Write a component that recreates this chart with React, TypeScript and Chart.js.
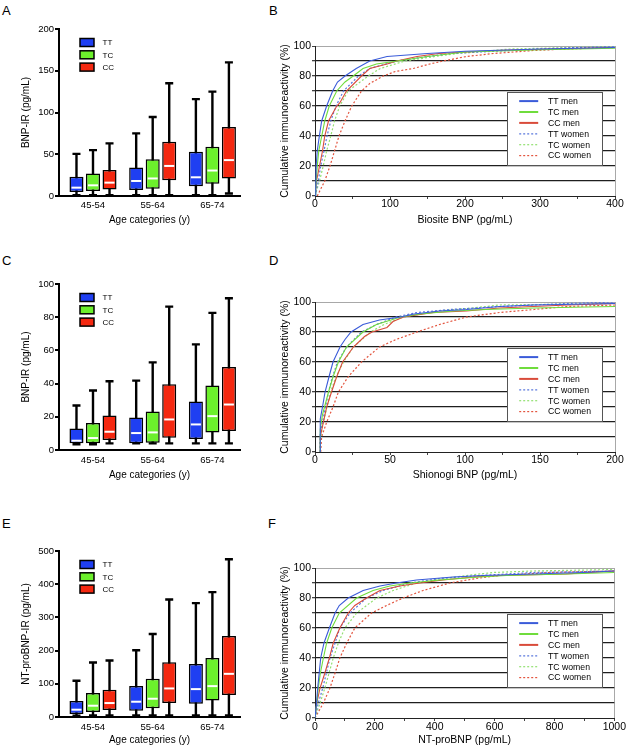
import React, { useEffect, useRef } from 'react';
import { Chart, registerables } from 'chart.js';

Chart.register(...registerables);

const W = 627;
const H = 748;
const FONT = "'Liberation Sans', Arial, Helvetica, sans-serif";
Chart.defaults.font.family = FONT;
Chart.defaults.color = '#000';

// ---------- Box plot data: [min, q1, median, q3, max] per age category ----------
const ageCategories = ['45-54', '55-64', '65-74'];
const genotypes = ['TT', 'TC', 'CC'];
const genotypeColors = ['#1f3ff2', '#6cf02c', '#f42810'];

const biositeTT = [[1, 4.8, 10, 23, 50.5], [1, 7.2, 18, 34, 75], [1, 11.6, 22.4, 53, 116]];
const biositeTC = [[1, 6, 12.8, 27, 55], [1, 8.8, 21, 44, 94.6], [1, 14.8, 30.5, 59, 125]];
const biositeCC = [[1, 7.8, 16, 31, 63], [1, 19, 36, 65, 135], [3, 21, 43, 82.6, 160]];

const shionogiTT = [[3.5, 4, 5.6, 13, 26.8], [4, 4, 10.2, 19.6, 41.8], [4, 6.6, 15.4, 29.2, 63.6]];
const shionogiTC = [[3.5, 4, 7.2, 16.2, 35.8], [4, 4.4, 10.6, 23.2, 52.8], [4, 10.6, 20.4, 38.8, 82.6]];
const shionogiCC = [[4, 6, 11, 20.8, 41.4], [4, 7.4, 18.4, 39.6, 86.4], [4, 11.4, 27.4, 50, 91.4]];

const ntproTT = [[4, 9, 22, 48, 109], [5, 19, 46, 93, 201], [5, 40, 84, 160, 343]];
const ntproTC = [[5, 15, 34, 72, 164], [5, 26, 55, 115, 250], [5, 50, 93, 178, 376]];
const ntproCC = [[5, 21, 42, 82, 170], [5, 42, 86, 165, 354], [5, 66, 130, 244, 475]];

// ---------- Cumulative distribution data: [concentration, cumulative %] ----------
const cdfLabels = ['TT men', 'TC men', 'CC men', 'TT women', 'TC women', 'CC women'];
const cdfColors = ['#3a5bd9', '#6fdc3c', '#d94b3a', '#5a78dd', '#92e070', '#e3553f'];
const cdfDotted = [false, false, false, true, true, true];

const biositeTTmen = [[0, 0], [1, 5], [1.5, 20], [3, 30], [5.8, 40], [8.9, 50], [15.5, 60], [23.5, 70], [30, 76], [40, 80], [55, 85], [73, 90], [96, 93], [150, 95], [200, 96.5], [300, 98], [400, 99]];
const biositeTCmen = [[0, 0], [1, 5], [3, 20], [5, 30], [9, 40], [13, 50], [19, 60], [29, 70], [40, 76], [51, 80], [64, 85], [82, 88], [110, 90], [150, 93], [200, 96], [300, 97.5], [400, 98.5]];
const biositeCCmen = [[0, 0], [2, 10], [6, 20], [10, 30], [13, 40], [18, 50], [29, 60], [33, 62], [42, 70], [62, 80], [73, 85], [96, 88], [109, 90], [136, 93], [165, 95], [240, 97], [320, 98], [400, 99]];
const biositeTTwomen = [[0, 0], [4.4, 10], [7.6, 20], [12, 30], [16, 40], [21, 50], [28, 60], [38, 70], [58, 80], [73, 85], [109, 90], [150, 93], [180, 95], [300, 98], [350, 99], [400, 99.5]];
const biositeTCwomen = [[0, 0], [6, 10], [11, 20], [15.5, 30], [21, 40], [26, 50], [33, 60], [44, 70], [71, 80], [87, 85], [120, 90], [160, 93], [190, 95], [260, 98], [380, 99.5], [400, 100]];
const biositeCCwomen = [[3, 0], [13, 10], [20, 20], [26, 30], [32, 40], [40, 50], [49, 60], [62, 70], [73, 75], [91, 80], [107, 83], [131, 85], [153, 88], [171, 90], [202, 93], [238, 95], [291, 97], [336, 98], [400, 99]];

const shionogiTTmen = [[3.5, 0], [3.5, 22], [5, 30], [6.7, 40], [9.3, 50], [12, 60], [16.7, 70], [20, 75], [24, 80], [32, 85], [43, 88], [57, 90], [66, 92], [83, 94], [101, 95], [123, 97], [146, 98], [200, 99]];
const shionogiTCmen = [[3.5, 0], [3.5, 15], [5, 25], [9, 40], [12, 50], [15.6, 60], [21, 70], [32, 80], [41, 85], [57, 90], [70, 92], [92, 94], [114, 95], [146, 96], [200, 97]];
const shionogiCCmen = [[3.5, 0], [3.5, 10], [5.6, 20], [7.8, 30], [11, 40], [14.4, 50], [18.4, 60], [25.6, 70], [33, 77], [38, 80], [48, 83], [52, 87], [59, 90], [79, 93], [101, 94], [123, 96], [168, 98], [200, 99]];
const shionogiTTwomen = [[3.5, 0], [3.5, 12], [5, 20], [9, 40], [11.6, 50], [15, 60], [21, 70], [31, 80], [41, 85], [54, 90], [68, 93], [90, 95], [123, 97], [168, 99], [200, 100]];
const shionogiTCwomen = [[3.5, 0], [3.5, 8], [5.6, 20], [10.4, 40], [14, 50], [19, 60], [25.6, 70], [37, 80], [46, 85], [59, 90], [83, 94], [105, 96], [123, 98], [200, 99]];
const shionogiCCwomen = [[3.8, 0], [4.4, 10], [7.8, 20], [12, 30], [15.6, 40], [22, 50], [31, 60], [43, 70], [54, 75], [68, 80], [83, 85], [101, 90], [123, 93], [146, 95], [168, 97], [200, 98]];

const ntproTTmen = [[0, 0], [5, 10], [9, 20], [14, 30], [19, 40], [30, 50], [48, 60], [67, 70], [81, 75], [111, 80], [161, 85], [217, 88], [272, 90], [339, 92], [461, 94], [561, 95], [728, 96], [894, 97], [1000, 98]];
const ntproTCmen = [[0, 0], [6, 10], [11, 20], [18, 30], [28, 40], [39, 50], [56, 60], [81, 70], [139, 80], [194, 85], [250, 88], [317, 90], [417, 92], [550, 94], [639, 95], [839, 96], [1000, 97]];
const ntproCCmen = [[0, 0], [6, 10], [17, 20], [33, 30], [48, 40], [61, 50], [72, 55], [83, 60], [111, 70], [133, 75], [172, 80], [217, 85], [283, 88], [350, 90], [428, 92], [528, 94], [617, 95], [839, 96], [1000, 98]];
const ntproTTwomen = [[0, 0], [11, 10], [26, 20], [38, 30], [50, 40], [67, 50], [83, 60], [117, 70], [172, 80], [228, 85], [317, 90], [417, 93], [550, 95], [728, 97], [1000, 98]];
const ntproTCwomen = [[0, 0], [17, 10], [33, 20], [47, 30], [61, 40], [78, 50], [100, 60], [139, 70], [206, 80], [261, 85], [339, 90], [428, 93], [506, 95], [594, 97], [728, 98], [1000, 99]];
const ntproCCwomen = [[0, 0], [28, 10], [50, 20], [67, 30], [83, 40], [106, 50], [133, 60], [189, 70], [239, 75], [294, 80], [361, 85], [450, 90], [539, 93], [617, 95], [783, 97], [1000, 98]];

// ---------- plugins ----------
const boxWhiskerPlugin = {
  id: 'boxWhisker',
  beforeDatasetsDraw(chart: any) {
    const ctx = chart.ctx;
    const y = chart.scales.y;
    chart.data.datasets.forEach((ds: any, i: number) => {
      const meta = chart.getDatasetMeta(i);
      meta.data.forEach((el: any, j: number) => {
        const s = ds.stats[j];
        const x = el.x;
        const cw = 4;
        const yMin = y.getPixelForValue(s[0]);
        const yMax = y.getPixelForValue(s[4]);
        ctx.save();
        ctx.strokeStyle = '#000';
        ctx.lineWidth = 2.4;
        ctx.beginPath();
        ctx.moveTo(x, yMax);
        ctx.lineTo(x, yMin);
        ctx.moveTo(x - cw, yMax);
        ctx.lineTo(x + cw, yMax);
        ctx.moveTo(x - cw, yMin);
        ctx.lineTo(x + cw, yMin);
        ctx.stroke();
        ctx.restore();
      });
    });
  },
  afterDatasetsDraw(chart: any) {
    const ctx = chart.ctx;
    const y = chart.scales.y;
    chart.data.datasets.forEach((ds: any, i: number) => {
      const meta = chart.getDatasetMeta(i);
      meta.data.forEach((el: any, j: number) => {
        const s = ds.stats[j];
        const ym = y.getPixelForValue(s[2]);
        const half = el.width / 2 - 2;
        ctx.save();
        ctx.strokeStyle = '#fff';
        ctx.lineWidth = 2;
        ctx.beginPath();
        ctx.moveTo(el.x - half, ym);
        ctx.lineTo(el.x + half, ym);
        ctx.stroke();
        ctx.restore();
      });
    });
  },
};

const boxLegendPlugin = {
  id: 'boxLegend',
  afterDraw(chart: any) {
    const ctx = chart.ctx;
    const ca = chart.chartArea;
    chart.data.datasets.forEach((ds: any, i: number) => {
      const cy = ca.top + 13.5 + i * 12.3;
      ctx.save();
      ctx.fillStyle = ds.backgroundColor;
      ctx.fillRect(ca.left + 21, cy - 4, 14, 8);
      ctx.strokeStyle = '#000';
      ctx.lineWidth = 1.5;
      ctx.strokeRect(ca.left + 21, cy - 4, 14, 8);
      ctx.fillStyle = '#000';
      ctx.font = `8px ${FONT}`;
      ctx.textBaseline = 'middle';
      ctx.textAlign = 'left';
      ctx.fillText(ds.label, ca.left + 43.5, cy + 0.5);
      ctx.restore();
    });
  },
};

const cdfLegendPlugin = {
  id: 'cdfLegend',
  afterDraw(chart: any) {
    const ctx = chart.ctx;
    const ca = chart.chartArea;
    const bw = 95;
    const bh = 73;
    const bx = Math.round(ca.right - 12.7 - bw) + 0.5;
    const by = Math.round(ca.top + 46.3) + 0.5;
    ctx.save();
    ctx.fillStyle = '#fff';
    ctx.fillRect(bx, by, bw, bh);
    ctx.strokeStyle = '#555';
    ctx.lineWidth = 1;
    ctx.strokeRect(bx, by, bw, bh);
    chart.data.datasets.forEach((ds: any, i: number) => {
      const cy = by + 8.6 + i * 10.9;
      ctx.strokeStyle = ds.borderColor;
      ctx.lineWidth = ds.borderDash && ds.borderDash.length ? 1.2 : 2;
      ctx.setLineDash(ds.borderDash || []);
      ctx.beginPath();
      ctx.moveTo(bx + 11.7, cy);
      ctx.lineTo(bx + 30.7, cy);
      ctx.stroke();
      ctx.setLineDash([]);
      ctx.fillStyle = '#000';
      ctx.font = `8.7px ${FONT}`;
      ctx.textBaseline = 'middle';
      ctx.textAlign = 'left';
      ctx.fillText(ds.label, bx + 40.5, cy + 0.5);
    });
    ctx.restore();
  },
};

// ---------- config builders ----------
type Rect = { l: number; t: number; r: number; b: number };

function boxConfig(series: number[][][], yMax: number, yStep: number, yTitle: string, rect: Rect, yTitleX: number, xTitleY: number, xTickPad: number) {
  const padLeft = yTitleX - 6;
  const yW = rect.l - padLeft;
  const scaleBottom = xTitleY + 6;
  const xH = scaleBottom - rect.b;
  const firstCenter = 93;
  const spacing = 59.7;
  return {
    type: 'bar',
    data: {
      datasets: genotypes.map((g, i) => ({
        label: g,
        data: series[i].map((s, j) => ({ x: j, y: [s[1], s[3]] })),
        stats: series[i],
        backgroundColor: genotypeColors[i],
        borderColor: '#000',
        borderWidth: 1.5,
        borderSkipped: false,
        barPercentage: 0.85,
        categoryPercentage: 0.83,
      })),
    },
    options: {
      animation: false,
      responsive: false,
      devicePixelRatio: 1,
      layout: { padding: { left: padLeft, top: rect.t, right: W - rect.r, bottom: H - scaleBottom } },
      plugins: { legend: { display: false }, tooltip: { enabled: false } },
      scales: {
        x: {
          type: 'linear',
          bounds: 'data',
          offset: false,
          min: (rect.l - firstCenter) / spacing,
          max: (rect.r - firstCenter) / spacing,
          grid: { display: false, drawTicks: false, offset: false },
          border: { display: true, color: '#000', width: 2 },
          ticks: {
            padding: xTickPad,
            font: { size: 9.5 },
            color: '#000',
            autoSkip: false,
            maxRotation: 0,
            callback: (v: number) => ageCategories[v] ?? '',
          },
          afterBuildTicks: (s: any) => {
            s.ticks = ageCategories.map((_, i) => ({ value: i }));
          },
          afterFit: (s: any) => {
            s.height = xH;
          },
          title: { display: true, text: 'Age categories (y)', font: { size: 10 }, color: '#000', padding: 0 },
        },
        y: {
          min: 0,
          max: yMax,
          ticks: { stepSize: yStep, font: { size: 9.5 }, color: '#000', padding: 1 },
          grid: { display: true, drawOnChartArea: false, drawTicks: true, tickLength: 4, tickWidth: 2, tickColor: '#000', lineWidth: 2, color: '#000' },
          border: { display: true, color: '#000', width: 2 },
          afterFit: (s: any) => {
            s.width = yW;
          },
          title: { display: true, text: yTitle, font: { size: 10 }, color: '#000', padding: 0 },
        },
      },
    },
    plugins: [boxWhiskerPlugin, boxLegendPlugin],
  };
}

function cdfConfig(series: number[][][], xMax: number, xStep: number, xTitle: string, rect: Rect, yTitleX: number, xTitleY: number, xTickPad: number) {
  const padLeft = yTitleX - 6.3;
  const yW = rect.l - padLeft;
  const scaleBottom = xTitleY + 6.3;
  const xH = scaleBottom - rect.b;
  return {
    type: 'line',
    data: {
      datasets: series.map((pts, i) => ({
        label: cdfLabels[i],
        data: pts.map(([x, y]) => ({ x, y })),
        borderColor: cdfColors[i],
        borderWidth: cdfDotted[i] ? 1.2 : 1.1,
        borderDash: cdfDotted[i] ? [2, 2] : [],
        pointRadius: 0,
        fill: false,
        tension: 0,
      })),
    },
    options: {
      animation: false,
      responsive: false,
      devicePixelRatio: 1,
      layout: { padding: { left: padLeft, top: rect.t, right: W - rect.r, bottom: H - scaleBottom } },
      plugins: { legend: { display: false }, tooltip: { enabled: false } },
      scales: {
        x: {
          type: 'linear',
          min: 0,
          max: xMax,
          ticks: {
            stepSize: xStep / 2,
            autoSkip: false,
            maxRotation: 0,
            padding: xTickPad,
            font: { size: 10.5, lineHeight: 1 },
            color: '#000',
            callback: (v: number) => (v % xStep === 0 ? String(v) : ''),
          },
          grid: {
            color: (c: any) => (c.tick && c.tick.value === xMax ? '#a8a8a8' : 'rgba(0,0,0,0)'),
            tickColor: '#444',
            tickLength: 3,
            lineWidth: 1,
          },
          border: { display: true, color: '#222', width: 1 },
          afterFit: (s: any) => {
            s.height = xH;
          },
          title: { display: true, text: xTitle, font: { size: 10.5 }, color: '#000', padding: 0 },
        },
        y: {
          min: 0,
          max: 100,
          ticks: {
            stepSize: 10,
            autoSkip: false,
            padding: 1,
            font: { size: 10.5 },
            color: '#000',
            callback: (v: number) => (v % 20 === 0 ? String(v) : ''),
          },
          grid: {
            color: (c: any) => {
              const v = c.tick ? c.tick.value : -1;
              if (v === 100) return '#a8a8a8';
              if (v === 0) return 'rgba(0,0,0,0)';
              return '#1e1e1e';
            },
            lineWidth: (c: any) => (c.tick && c.tick.value === 100 ? 1 : 1.3),
            tickColor: '#444',
            tickLength: 3,
          },
          border: { display: true, color: '#222', width: 1 },
          afterFit: (s: any) => {
            s.width = yW;
          },
          title: { display: true, text: 'Cumulative immunoreactivity (%)', font: { size: 10.5 }, color: '#000', padding: 0 },
        },
      },
    },
    plugins: [cdfLegendPlugin],
  };
}

// ---------- components ----------
function ChartLayer({ make }: { make: () => any }) {
  const ref = useRef<HTMLCanvasElement>(null);
  useEffect(() => {
    const chart = new Chart(ref.current as HTMLCanvasElement, make());
    return () => chart.destroy();
  }, []);
  return (
    <canvas
      ref={ref}
      width={W}
      height={H}
      style={{ position: 'absolute', left: 0, top: 0, width: W, height: H }}
    />
  );
}

const letterStyle = (left: number, top: number): React.CSSProperties => ({
  position: 'absolute',
  left,
  top,
  fontFamily: FONT,
  fontSize: 13,
  lineHeight: '13px',
  color: '#000',
});

export default function App() {
  return (
    <div style={{ position: 'absolute', left: 0, top: 0, width: W, height: H, background: '#fff', overflow: 'hidden' }}>
      <div style={letterStyle(2, 3.5)}>A</div>
      <div style={letterStyle(269, 3.5)}>B</div>
      <div style={letterStyle(2, 253.5)}>C</div>
      <div style={letterStyle(269, 253.5)}>D</div>
      <div style={letterStyle(2, 516.5)}>E</div>
      <div style={letterStyle(268, 516.5)}>F</div>

      <ChartLayer make={() => boxConfig([biositeTT, biositeTC, biositeCC], 200, 50, 'BNP-IR (pg/mL)', { l: 59, t: 29, r: 240, b: 196 }, 26.5, 220, 3.3)} />
      <ChartLayer make={() => boxConfig([shionogiTT, shionogiTC, shionogiCC], 100, 20, 'BNP-IR (pg/mL)', { l: 59, t: 284, r: 240, b: 450 }, 26.5, 475, 5)} />
      <ChartLayer make={() => boxConfig([ntproTT, ntproTC, ntproCC], 500, 100, 'NT-proBNP-IR (pg/mL)', { l: 59, t: 551, r: 240, b: 717 }, 26.5, 740.5, 4.6)} />

      <ChartLayer make={() => cdfConfig([biositeTTmen, biositeTCmen, biositeCCmen, biositeTTwomen, biositeTCwomen, biositeCCwomen], 400, 100, 'Biosite BNP (pg/mL)', { l: 315, t: 46, r: 615, b: 196 }, 285, 220, 0)} />
      <ChartLayer make={() => cdfConfig([shionogiTTmen, shionogiTCmen, shionogiCCmen, shionogiTTwomen, shionogiTCwomen, shionogiCCwomen], 200, 50, 'Shionogi BNP (pg/mL)', { l: 315, t: 302, r: 615, b: 452 }, 285.5, 475, 0)} />
      <ChartLayer make={() => cdfConfig([ntproTTmen, ntproTCmen, ntproCCmen, ntproTTwomen, ntproTCwomen, ntproCCwomen], 1000, 200, 'NT-proBNP (pg/mL)', { l: 315, t: 568, r: 615, b: 718 }, 285.5, 740.3, 1)} />
    </div>
  );
}
